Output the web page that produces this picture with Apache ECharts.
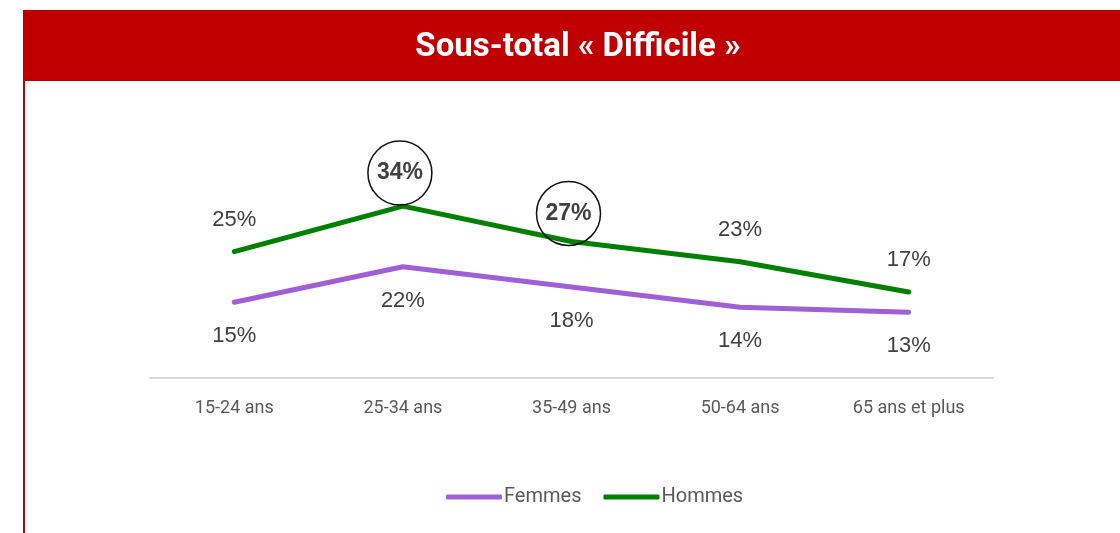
<!DOCTYPE html>
<html>
<head>
<meta charset="utf-8">
<script src="https://cdn.jsdelivr.net/npm/echarts@6/dist/echarts.min.js"></script>
<style>
  html, body { margin: 0; padding: 0; background: #fff; }
  #chart { width: 1120px; height: 533px; }
</style>
</head>
<body>
<div id="chart"></div>
<script>
// données
const ageGroups = ['15-24 ans', '25-34 ans', '35-49 ans', '50-64 ans', '65 ans et plus']
const femmes = [15, 22, 18, 14, 13]
const hommes = [25, 34, 27, 23, 17]
// points entourés sur la courbe Hommes
const circled = [1, 2]

const condensed = 'Roboto, "Liberation Sans Narrow", sans-serif'
const labelFont = '"Liberation Sans", Arial, sans-serif'
const red = '#c00000'

const chart = echarts.init(document.getElementById('chart'))

const hommesData = hommes.map((v, i) => {
  if (!circled.includes(i)) return v
  return {
    value: v,
    label: {
      fontWeight: 'bold',
      fontSize: 23,
      width: 64,
      height: 64,
      lineHeight: 64,
      align: 'center',
      padding: 0,
      borderColor: '#111',
      borderWidth: 1.5,
      borderRadius: 33,
      distance: i === 2 ? -4 : 1,
      offset: [-3, 0]
    }
  }
})

const option = {
  animation: false,
  title: {
    text: 'Sous-total « Difficile »',
    left: 573,
    textAlign: 'center',
    top: 26,
    textStyle: {
      color: '#fff',
      fontFamily: condensed,
      fontWeight: 'bold',
      fontSize: 33
    }
  },
  graphic: [
    { type: 'rect', shape: { x: 23, y: 10, width: 1097, height: 71 }, style: { fill: red }, z: -1 },
    { type: 'rect', shape: { x: 23, y: 81, width: 2, height: 452 }, style: { fill: red }, z: -1 }
  ],
  grid: { left: 150, right: 127, top: 100, bottom: 155 },
  legend: {
    bottom: 21,
    left: 441,
    itemWidth: 56,
    itemHeight: 5,
    itemGap: 22,
    textStyle: { color: '#595959', fontFamily: condensed, fontSize: 20, padding: [0, 0, 0, -3] },
    data: [
      { name: 'Femmes', icon: 'roundRect' },
      { name: 'Hommes', icon: 'roundRect' }
    ]
  },
  xAxis: {
    type: 'category',
    data: ageGroups,
    boundaryGap: true,
    axisLine: { lineStyle: { color: '#d9d9d9', width: 2 } },
    axisTick: { show: false },
    axisLabel: {
      color: '#595959',
      fontFamily: condensed,
      fontSize: 18,
      margin: 21
    }
  },
  yAxis: {
    type: 'value',
    min: 0,
    max: 55,
    show: false,
    splitLine: { show: false }
  },
  series: [
    {
      name: 'Femmes',
      type: 'line',
      data: femmes,
      symbol: 'circle',
      symbolSize: 0.1,
      showSymbol: true,
      color: '#a05fd6',
      lineStyle: { width: 5, cap: 'round' },
      label: {
        show: true,
        position: 'bottom',
        distance: 23,
        formatter: '{c}%',
        color: '#404040',
        fontFamily: labelFont,
        fontSize: 22
      }
    },
    {
      name: 'Hommes',
      type: 'line',
      data: hommesData,
      symbol: 'circle',
      symbolSize: 0.1,
      showSymbol: true,
      color: '#008000',
      lineStyle: { width: 5, cap: 'round' },
      label: {
        show: true,
        position: 'top',
        distance: 21,
        formatter: '{c}%',
        color: '#404040',
        fontFamily: labelFont,
        fontSize: 22
      }
    }
  ]
}

chart.setOption(option)
</script>
</body>
</html>
